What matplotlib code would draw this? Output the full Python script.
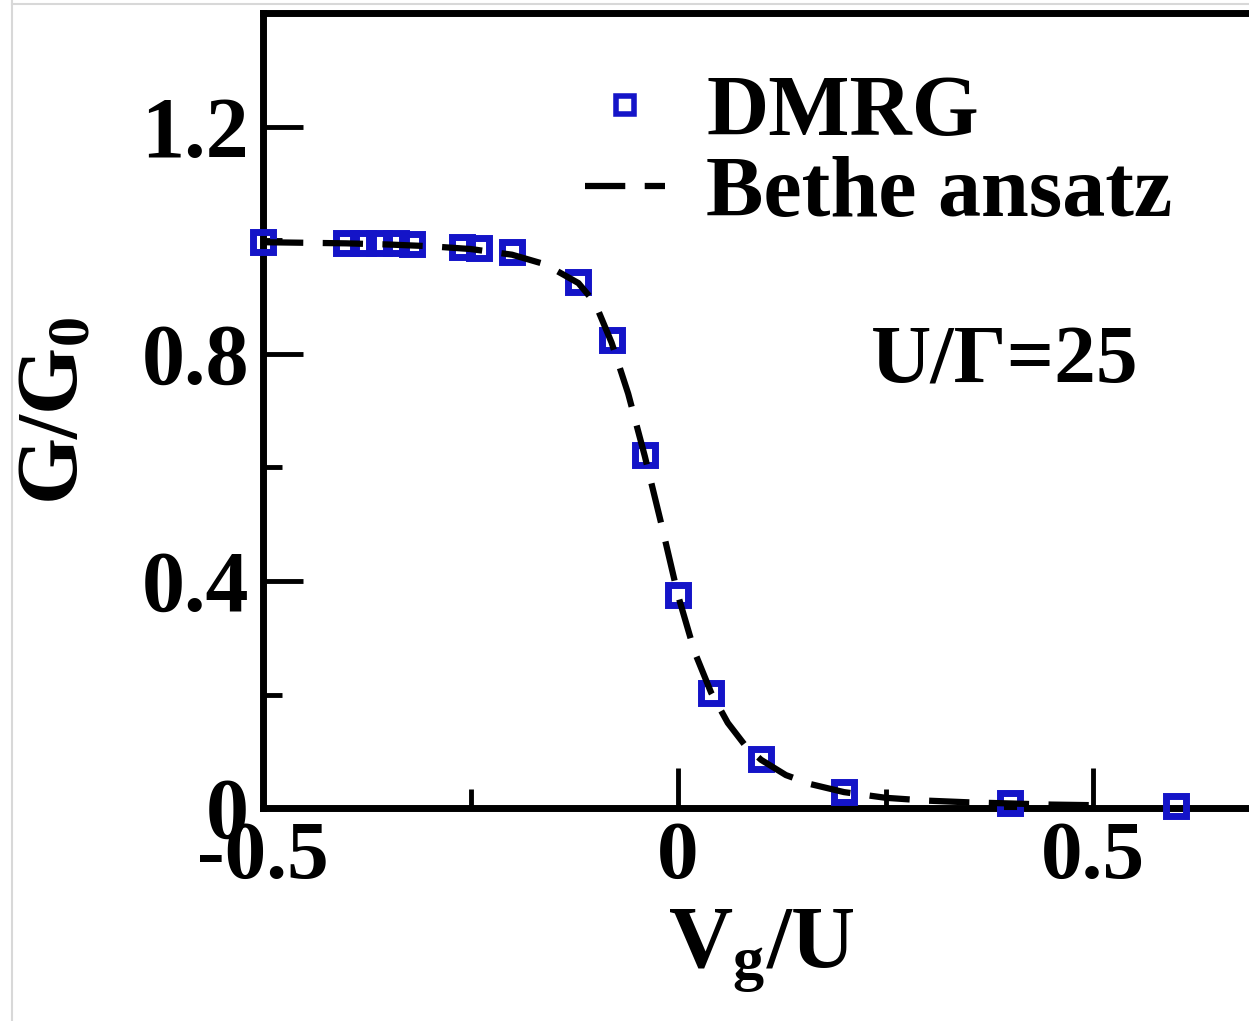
import matplotlib
matplotlib.use('Agg')
import matplotlib.pyplot as plt
from matplotlib.lines import Line2D
from matplotlib.ticker import MultipleLocator

# DMRG data points
dmrg_x = [-0.5, -0.4, -0.38, -0.36, -0.34, -0.32, -0.26, -0.24, -0.2, -0.12,
          -0.08, -0.04, 0.0, 0.04, 0.1, 0.2, 0.4, 0.6]
dmrg_y = [0.997, 0.996, 0.996, 0.995, 0.995, 0.994, 0.988, 0.986, 0.98, 0.927,
          0.825, 0.622, 0.375, 0.203, 0.086, 0.028, 0.008, 0.003]

# Bethe ansatz curve
bethe_x = [-0.5, -0.45, -0.4, -0.35, -0.3, -0.25, -0.2, -0.16, -0.12, -0.1,
           -0.08, -0.06, -0.04, -0.02, 0.0, 0.02, 0.04, 0.06, 0.08, 0.1,
           0.13, 0.16, 0.2, 0.25, 0.3, 0.35, 0.4, 0.45, 0.5]
bethe_y = [0.997, 0.996, 0.995, 0.993, 0.99, 0.985, 0.975, 0.958, 0.925, 0.89,
           0.82, 0.73, 0.62, 0.50, 0.375, 0.275, 0.203, 0.150, 0.112, 0.085,
           0.058, 0.042, 0.028, 0.018, 0.013, 0.010, 0.008, 0.006, 0.005]

xticks = [-0.5, 0, 0.5]
xtick_labels = ['-0.5', '0', '0.5']
yticks = [0, 0.4, 0.8, 1.2]
ytick_labels = ['0', '0.4', '0.8', '1.2']

plt.rcParams['font.family'] = ['Liberation Serif', 'DejaVu Serif']
plt.rcParams['font.weight'] = 'bold'
plt.rcParams['mathtext.fontset'] = 'custom'
plt.rcParams['mathtext.rm'] = 'Liberation Serif:bold'
plt.rcParams['mathtext.it'] = 'Liberation Serif:bold'
plt.rcParams['mathtext.bf'] = 'Liberation Serif:bold'
plt.rcParams['axes.unicode_minus'] = False
plt.rcParams['lines.scale_dashes'] = False

W, H = 1249, 1021
fig = plt.figure(figsize=(W / 100, H / 100), dpi=100)
ax = fig.add_axes([263 / W, 213 / H, 996 / W, 794.5 / H])

blue = '#1414c8'
ax.plot(dmrg_x, dmrg_y, linestyle='none', marker='s', ms=15, mew=5,
        mfc='none', mec=blue, clip_on=False, zorder=5, label='DMRG')
ax.plot(bethe_x, bethe_y, color='black', lw=4.5, dashes=(29, 14),
        zorder=6, label='Bethe ansatz')

ax.set_xlim(-0.5, 0.7)
ax.set_ylim(0, 1.4)
ax.set_xticks(xticks, xtick_labels)
ax.set_yticks(yticks, ytick_labels)
ax.xaxis.set_minor_locator(MultipleLocator(0.25))
ax.yaxis.set_minor_locator(MultipleLocator(0.2))

for s in ax.spines.values():
    s.set_linewidth(5)
ax.tick_params(which='both', direction='in', width=3.5, labelsize=60)
ax.tick_params(axis='y', labelsize=62)
ax.tick_params(which='major', length=29)
ax.tick_params(which='minor', length=14)
ax.tick_params(axis='x', which='major', pad=9)
ax.tick_params(axis='y', which='major', pad=10)

ax.set_xlabel(r'$\mathbf{V_g/U}$', fontsize=64)
ax.set_ylabel(r'$\mathbf{G/G_0}$', fontsize=62)
ax.xaxis.set_label_coords(0.5, -0.125)
ax.yaxis.set_label_coords(-0.168, 0.5)

ax.text(0.2325, 0.749, 'U/Γ=25', fontsize=60, fontweight='bold',
        va='baseline', ha='left')

leg = ax.legend(loc='upper left', bbox_to_anchor=(585 / W, 1 - 75 / H),
                bbox_transform=fig.transFigure, frameon=False, fontsize=62,
                handlelength=0.93, handletextpad=0.48, borderpad=0,
                borderaxespad=0, labelspacing=0.02)
leg.legend_handles[0].set_markeredgewidth(4)
leg.legend_handles[0].set_markersize(13)

# faint frame of the original picture
fig.add_artist(Line2D([12 / W, 12 / W], [0, 1], color='#d8d8d8', lw=1.5))
fig.add_artist(Line2D([12 / W, 1], [1 - 4 / H, 1 - 4 / H], color='#d8d8d8', lw=1.5))

fig.savefig('out.png', dpi=100)
